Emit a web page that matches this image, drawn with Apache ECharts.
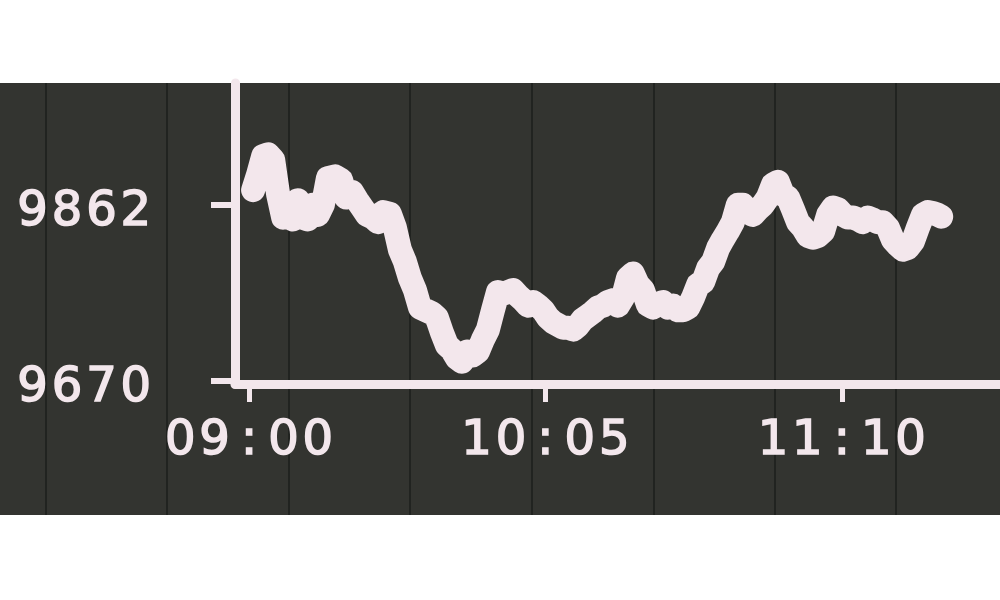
<!DOCTYPE html>
<html>
<head>
<meta charset="utf-8">
<script src="https://cdn.jsdelivr.net/npm/echarts@6/dist/echarts.min.js"></script>
<style>html,body{margin:0;padding:0;background:#fff;}#c{width:1000px;height:600px;}</style>
</head>
<body>
<div id="c"></div>
<script>
// minutes after 09:00
const times = [0.9,2.0,3.1,4.2,5.3,6.4,7.5,8.6,9.6,10.7,11.8,12.9,14.0,15.1,16.2,17.3,18.9,20.2,21.3,22.6,23.7,24.8,25.9,27.2,28.3,29.4,30.9,32.0,33.1,34.2,35.3,36.4,37.5,38.8,40.1,41.2,42.3,43.4,44.5,45.6,46.7,47.8,49.1,50.2,51.3,52.4,53.5,54.6,55.7,56.8,57.9,59.0,60.1,61.2,62.3,63.4,64.5,65.6,66.7,67.8,68.9,70.0,71.1,72.1,73.2,74.3,75.4,76.5,77.6,78.7,79.8,80.9,82.0,83.1,84.2,85.3,86.4,87.5,88.6,89.7,90.8,91.9,93.0,94.1,95.2,96.3,97.4,98.5,99.6,100.7,101.8,102.9,103.9,105.0,106.1,107.2,108.3,109.4,110.5,111.6,112.7,113.8,114.9,116.0,117.1,118.2,119.3,120.4,121.5,122.6,123.7,124.8,125.9,127.0,128.1,129.2,130.3,131.4,132.5,133.6,134.6,135.7,136.8,137.9,139.0,140.1,141.2,142.3,143.4,144.5,145.6,146.7,147.8,148.9,150.0,151.1,151.8];
const values = [9878,9895,9915,9917,9911,9873,9848,9854,9846,9867,9848,9846,9862,9851,9862,9891,9893,9889,9870,9876,9867,9859,9851,9848,9843,9854,9852,9837,9813,9800,9782,9769,9750,9747,9744,9739,9723,9709,9704,9695,9691,9702,9698,9702,9715,9726,9747,9767,9765,9767,9769,9763,9758,9752,9756,9752,9747,9739,9734,9731,9728,9728,9726,9730,9737,9741,9745,9750,9752,9756,9758,9752,9761,9782,9787,9775,9769,9753,9750,9754,9756,9750,9752,9747,9747,9750,9761,9775,9778,9793,9800,9815,9824,9833,9843,9862,9862,9854,9851,9857,9862,9870,9884,9887,9873,9870,9857,9843,9837,9828,9826,9828,9833,9851,9859,9857,9851,9848,9848,9846,9843,9848,9846,9843,9843,9837,9824,9818,9813,9815,9822,9837,9851,9854,9853,9851,9849];
const yTickValues = [9670, 9862];
const xTickMinutes = [0, 65, 130];
const xTickLabels = ['09:00', '10:05', '11:10'];

const LED = '#f3e7ec';
const PANEL = '#333430';

function spaced(s) {
  return s.split('').map(ch => '{c|' + ch + '}').join('');
}
const richC = {
  c: {
    width: 34.4, align: 'center', fontSize: 48, fontFamily: 'DejaVu Sans', color: LED,
    textBorderColor: LED, textBorderWidth: 1.6, padding: [16, 0, 0, 0]
  }
};

const chart = echarts.init(document.getElementById('c'), null, { renderer: 'canvas' });

const moduleLines = [46, 167, 289, 410, 532, 654, 775, 896].map(x => ({
  type: 'line', z: -9, silent: true,
  shape: { x1: x, y1: 83, x2: x, y2: 515 },
  style: { stroke: '#1d1e1b', lineWidth: 1.5 }
}));

chart.setOption({
  backgroundColor: '#ffffff',
  animation: false,
  graphic: [
    { type: 'rect', z: -10, silent: true, shape: { x: 0, y: 83, width: 1000, height: 432 }, style: { fill: PANEL } }
  ].concat(moduleLines),
  grid: { left: 235, right: 0, top: 83, bottom: 216, containLabel: false },
  xAxis: {
    type: 'value',
    min: -3.07,
    max: 164.7,
    axisLine: { show: true, onZero: false, lineStyle: { color: LED, width: 9 } },
    axisTick: { show: true, customValues: xTickMinutes, length: 18, lineStyle: { color: LED, width: 5 } },
    axisLabel: {
      show: true,
      customValues: xTickMinutes,
      margin: 18,
      formatter: function (v) {
        const i = xTickMinutes.indexOf(Math.round(v));
        return i >= 0 ? spaced(xTickLabels[i]) : '';
      },
      rich: richC
    },
    splitLine: { show: false }
  },
  yAxis: {
    type: 'value',
    min: 9666.7,
    max: 9994.7,
    axisLine: { show: true, onZero: false, lineStyle: { color: LED, width: 9 } },
    axisTick: { show: true, customValues: yTickValues, length: 24, lineStyle: { color: LED, width: 6 } },
    axisLabel: {
      show: true,
      customValues: yTickValues,
      margin: 82,
      formatter: function (v) { return spaced(String(Math.round(v))); },
      rich: richC
    },
    splitLine: { show: false }
  },
  series: [{
    type: 'line',
    data: times.map((t, i) => [t, values[i]]),
    showSymbol: false,
    symbol: 'none',
    lineStyle: { color: LED, width: 24, join: 'round', cap: 'round' },
    z: 3
  }]
});
</script>
</body>
</html>
